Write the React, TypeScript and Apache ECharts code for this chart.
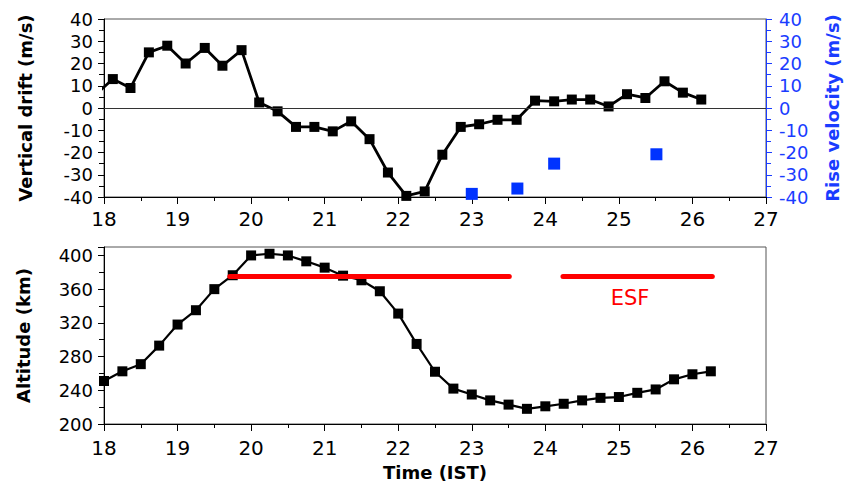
import React, { useEffect, useRef } from "react";
import * as echarts from "echarts";

// Top panel: vertical drift (black) and rise velocity (blue)
const driftTime = [17.87, 18.12, 18.36, 18.61, 18.86, 19.11, 19.37, 19.61, 19.87, 20.11, 20.36, 20.61, 20.86, 21.11, 21.36, 21.61, 21.86, 22.11, 22.36, 22.6, 22.85, 23.1, 23.35, 23.61, 23.86, 24.12, 24.36, 24.61, 24.86, 25.11, 25.36, 25.62, 25.87, 26.12];
const driftValue = [5.5, 13, 9, 25, 28, 20, 27, 19, 26, 2.5, -1.5, -8.5, -8.5, -10.5, -6, -14, -29, -39.5, -37.5, -21, -8.5, -7.3, -5.3, -5.3, 3.3, 3, 3.8, 3.8, 0.7, 6.2, 4.5, 12, 6.9, 3.8];

const riseTime = [23.0, 23.62, 24.12, 25.51];
const riseValue = [-38.6, -36.2, -25, -20.8];

// Bottom panel: altitude
const altTime = [18.0, 18.25, 18.5, 18.75, 19.0, 19.25, 19.5, 19.75, 20.0, 20.25, 20.5, 20.75, 21.0, 21.25, 21.5, 21.75, 22.0, 22.25, 22.5, 22.75, 23.0, 23.25, 23.5, 23.75, 24.0, 24.25, 24.5, 24.75, 25.0, 25.25, 25.5, 25.75, 26.0, 26.25];
const altValue = [251, 262.5, 271, 293, 318, 335, 360, 376.5, 400, 402, 400, 393, 385.5, 376, 370.5, 357.5, 331, 295, 262, 242, 235, 228, 223, 218, 221, 224, 228, 231, 232, 237, 241, 253, 259, 262.5];

// ESF occurrence intervals (start, end) drawn at fixed altitude
const esfStart = [19.71, 24.24];
const esfEnd = [23.51, 26.27];
const esfAltitude = 375;
const esfLabel = "ESF";

const xTicks = { min: 18, max: 27, interval: 1 };
const driftTicks = { min: -40, max: 40, interval: 10 };
const altTicks = { min: 200, max: 410, interval: 40 };

const FONT = "'DejaVu Sans', Verdana, sans-serif";
const BLUE = "#1a3cff";
const MARK_BLUE = "#0033ff";

export default function App() {
  const ref = useRef<HTMLDivElement>(null);

  useEffect(() => {
    if (!ref.current) return;
    const chart = echarts.init(ref.current, undefined, { renderer: "svg" });

    const xAxisBase = (gridIndex: number, margin: number) => ({
      type: "value",
      gridIndex,
      min: xTicks.min,
      max: xTicks.max,
      interval: xTicks.interval,
      axisLine: { onZero: false, lineStyle: { color: "#000", width: 1 } },
      axisTick: { show: true, length: 7, lineStyle: { color: "#000" } },
      minorTick: { show: true, splitNumber: 2, length: 4, lineStyle: { color: "#000" } },
      splitLine: { show: false },
      axisLabel: { fontSize: 20, color: "#000", margin, fontFamily: FONT },
    });

    const yTitle = (name: string, color: string, gap: number) => ({
      name,
      nameLocation: "middle",
      nameRotate: 90,
      nameGap: gap,
      nameTextStyle: { fontSize: 18, fontWeight: "bold", color, fontFamily: FONT },
    });

    const esfSeries = esfStart.map((s, i) => ({
      type: "line",
      xAxisIndex: 1,
      yAxisIndex: 2,
      data: [
        [s, esfAltitude],
        [esfEnd[i], esfAltitude],
      ],
      symbol: "none",
      lineStyle: { color: "#ff0000", width: 5, cap: "round" },
      z: 5,
    }));

    const option = {
      animation: false,
      backgroundColor: "#ffffff",
      grid: [
        { left: 104, right: 83, top: 19, height: 178, show: true, borderColor: "#555", borderWidth: 1, backgroundColor: "transparent" },
        { left: 104, right: 83, top: 247, height: 177, show: true, borderColor: "#555", borderWidth: 1, backgroundColor: "transparent" },
      ],
      xAxis: [
        xAxisBase(0, 12),
        {
          ...xAxisBase(1, 14),
          name: "Time (IST)",
          nameLocation: "middle",
          nameGap: 39,
          nameTextStyle: { fontSize: 18, fontWeight: "bold", color: "#000", fontFamily: FONT },
        },
      ],
      yAxis: [
        {
          type: "value",
          gridIndex: 0,
          position: "left",
          min: driftTicks.min,
          max: driftTicks.max,
          interval: driftTicks.interval,
          ...yTitle("Vertical drift (m/s)", "#000", 70),
          axisLine: { show: true, onZero: false, lineStyle: { color: "#000" } },
          axisTick: { show: true, length: 6, lineStyle: { color: "#000" } },
          minorTick: { show: true, splitNumber: 2, length: 5, lineStyle: { color: "#000" } },
          splitLine: { show: false },
          axisLabel: { fontSize: 18, color: "#000", margin: 11, fontFamily: FONT },
        },
        {
          type: "value",
          gridIndex: 0,
          position: "right",
          min: driftTicks.min,
          max: driftTicks.max,
          interval: driftTicks.interval,
          ...yTitle("Rise velocity (m/s)", BLUE, 57),
          axisLine: { show: true, onZero: false, lineStyle: { color: BLUE } },
          axisTick: { show: true, length: 6, lineStyle: { color: BLUE } },
          minorTick: { show: true, splitNumber: 2, length: 5, lineStyle: { color: BLUE } },
          splitLine: { show: false },
          axisLabel: { fontSize: 18, color: BLUE, margin: 13, fontFamily: FONT },
        },
        {
          type: "value",
          gridIndex: 1,
          position: "left",
          min: altTicks.min,
          max: altTicks.max,
          interval: altTicks.interval,
          ...yTitle("Altitude (km)", "#000", 72),
          axisLine: { show: true, onZero: false, lineStyle: { color: "#000" } },
          axisTick: { show: true, length: 6, lineStyle: { color: "#000" } },
          minorTick: { show: true, splitNumber: 2, length: 5, lineStyle: { color: "#000" } },
          splitLine: { show: false },
          axisLabel: { fontSize: 18, color: "#000", margin: 11, fontFamily: FONT, showMaxLabel: false },
        },
      ],
      series: [
        {
          type: "line",
          name: "Vertical drift",
          xAxisIndex: 0,
          yAxisIndex: 0,
          data: driftTime.map((t, i) => [t, driftValue[i]]),
          symbol: "rect",
          symbolSize: 10,
          clip: true,
          lineStyle: { color: "#000", width: 2.8 },
          itemStyle: { color: "#000" },
          z: 4,
          markLine: {
            silent: true,
            symbol: "none",
            label: { show: false },
            lineStyle: { color: "#333", width: 1, type: "solid" },
            data: [{ yAxis: 0 }],
          },
        },
        {
          type: "scatter",
          name: "Rise velocity",
          xAxisIndex: 0,
          yAxisIndex: 1,
          data: riseTime.map((t, i) => [t, riseValue[i]]),
          symbol: "rect",
          symbolSize: 12,
          itemStyle: { color: MARK_BLUE, opacity: 1 },
          z: 4,
        },
        {
          type: "line",
          name: "Altitude",
          xAxisIndex: 1,
          yAxisIndex: 2,
          data: altTime.map((t, i) => [t, altValue[i]]),
          symbol: "rect",
          symbolSize: 10,
          lineStyle: { color: "#000", width: 2.2 },
          itemStyle: { color: "#000" },
          z: 4,
        },
        ...esfSeries,
      ],
      graphic: [
        {
          type: "text",
          x: 630,
          y: 298,
          style: {
            text: esfLabel,
            fill: "#ff0000",
            fontSize: 21,
            fontFamily: FONT,
            align: "center",
            verticalAlign: "middle",
          },
        },
      ],
    };

    chart.setOption(option as any);
    return () => chart.dispose();
  }, []);

  return (
    <div
      ref={ref}
      style={{ position: "fixed", left: 0, top: 0, width: 849, height: 484, background: "#fff" }}
    />
  );
}
